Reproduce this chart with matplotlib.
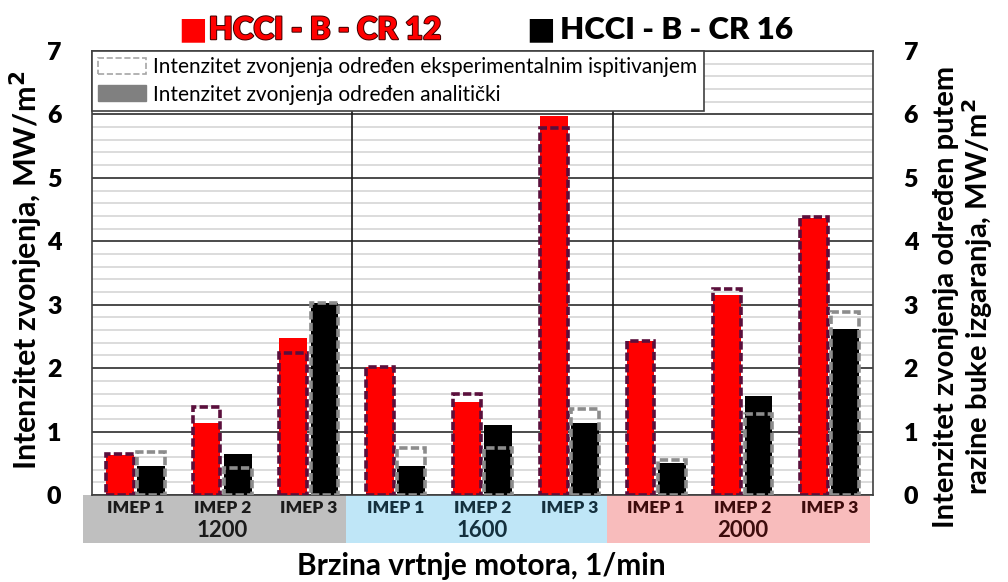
import matplotlib
matplotlib.use('Agg')
import matplotlib.pyplot as plt
import matplotlib.patheffects as pe
from matplotlib.patches import Patch, Rectangle
from matplotlib.ticker import MultipleLocator
import numpy as np

plt.rcParams['font.family'] = ['Lato', 'DejaVu Sans']

# data
speeds = ['1200', '1600', '2000']
imep_labels = ['IMEP 1', 'IMEP 2', 'IMEP 3']
cr12_analytic = [0.63, 1.13, 2.48, 2.02, 1.47, 5.97, 2.43, 3.16, 4.37]
cr12_experiment = [0.64, 1.38, 2.24, 2.02, 1.60, 5.78, 2.43, 3.24, 4.38]
cr16_analytic = [0.46, 0.64, 3.02, 0.45, 1.10, 1.14, 0.51, 1.56, 2.61]
cr16_experiment = [0.68, 0.42, 3.03, 0.74, 0.74, 1.35, 0.55, 1.27, 2.88]

band_colors = ['#bfbfbf', '#bfe6f7', '#f8bcbc']
band_text = ['#1a1a1a', '#14303e', '#3d0c0c']

fig = plt.figure(figsize=(10.08, 5.82), dpi=100)
ax = fig.add_axes([0.0913, 0.1495, 0.7748, 0.7629])

x = np.arange(len(cr12_analytic)) + 0.5
w = 0.32
off = 0.18
dash = (0, (2.3, 0.9))

ax.bar(x - off, cr12_analytic, w, color='#ff0000', zorder=3)
ax.bar(x + off, cr16_analytic, w, color='#000000', zorder=3)
ax.bar(x - off, cr12_experiment, w, facecolor='none', edgecolor='#5a0f3c',
       linewidth=2.6, linestyle=dash, zorder=4)
ax.bar(x + off, cr16_experiment, w, facecolor='none', edgecolor='#8c8c8c',
       linewidth=2.6, linestyle=dash, zorder=4)

ax.set_xlim(0, 9)
ax.set_ylim(0, 7)
ax.yaxis.set_major_locator(MultipleLocator(1))
ax.yaxis.set_minor_locator(MultipleLocator(0.2))
ax.grid(which='minor', axis='y', color='#dcdcdc', linewidth=1.4)
ax.grid(which='major', axis='y', color='#1a1a1a', linewidth=1.1)
for sep in (3, 6):
    ax.axvline(sep, color='#1a1a1a', linewidth=1.2, zorder=2)
for s in ax.spines.values():
    s.set_color('#404040')
    s.set_linewidth(1.2)

ax.set_xticks([])
ax.tick_params(axis='y', which='both', length=0, labelright=True,
               labelsize=18, pad=22)
for lab in ax.get_yticklabels():
    lab.set_fontweight('heavy')

# category band under the axis
trans = ax.get_xaxis_transform()
edges = [-0.1, 2.93, 5.93, 8.96]
for i, sp in enumerate(speeds):
    ax.add_patch(Rectangle((edges[i], -0.108), edges[i + 1] - edges[i], 0.108,
                           transform=trans, facecolor=band_colors[i],
                           edgecolor='none', clip_on=False))
    for j, lab in enumerate(imep_labels):
        ax.text(3 * i + j + 0.5, -0.03, lab, transform=trans, ha='center',
                va='center', fontsize=12.5, fontweight='heavy', color=band_text[i])
    ax.text(3 * i + 1.5, -0.081, sp, transform=trans, ha='center',
            va='center', fontsize=16, fontweight='bold', color=band_text[i])

fig.text(0.477, 0.028, 'Brzina vrtnje motora, 1/min', ha='center', va='center',
         fontsize=21.5, fontweight='bold')
fig.text(0.026, 0.535, 'Intenzitet zvonjenja, MW/m$^\\mathbf{2}$', ha='center',
         va='center', rotation=90, fontsize=22, fontweight='bold')
fig.text(0.956, 0.49,
         'Intenzitet zvonjenja određen putem\nrazine buke izgaranja, MW/m$^\\mathbf{2}$',
         ha='center', va='center', rotation=90, fontsize=21, fontweight='bold',
         linespacing=1.05)

# inner legend
handles = [Patch(facecolor='white', edgecolor='#a6a6a6', linestyle='--', linewidth=1.2),
           Patch(facecolor='#808080', edgecolor='#808080')]
leg = ax.legend(handles, ['Intenzitet zvonjenja određen eksperimentalnim ispitivanjem',
                          'Intenzitet zvonjenja određen analitički'],
                loc='upper left', bbox_to_anchor=(0, 1), borderaxespad=0,
                fontsize=15, fancybox=False, framealpha=1, edgecolor='#404040',
                handlelength=2.3, handleheight=0.8, labelspacing=0.35,
                borderpad=0.3, handletextpad=0.35)
leg.get_frame().set_linewidth(1.2)
leg.set_zorder(6)

# series legend on top
stroke = [pe.withStroke(linewidth=1.4, foreground='#3a0000')]
fig.text(0.177, 0.948, '■', color='#ff0000', fontsize=22, va='center',
         family='DejaVu Sans')
fig.text(0.207, 0.948, 'HCCI - B - CR 12', color='#ff0000', fontsize=22.5,
         fontweight='heavy', va='center', path_effects=stroke)
fig.text(0.522, 0.948, '■', color='#000000', fontsize=22, va='center',
         family='DejaVu Sans')
fig.text(0.556, 0.948, 'HCCI - B - CR 16', color='#000000', fontsize=22.5,
         fontweight='heavy', va='center')

fig.savefig('out.png', dpi=100)
